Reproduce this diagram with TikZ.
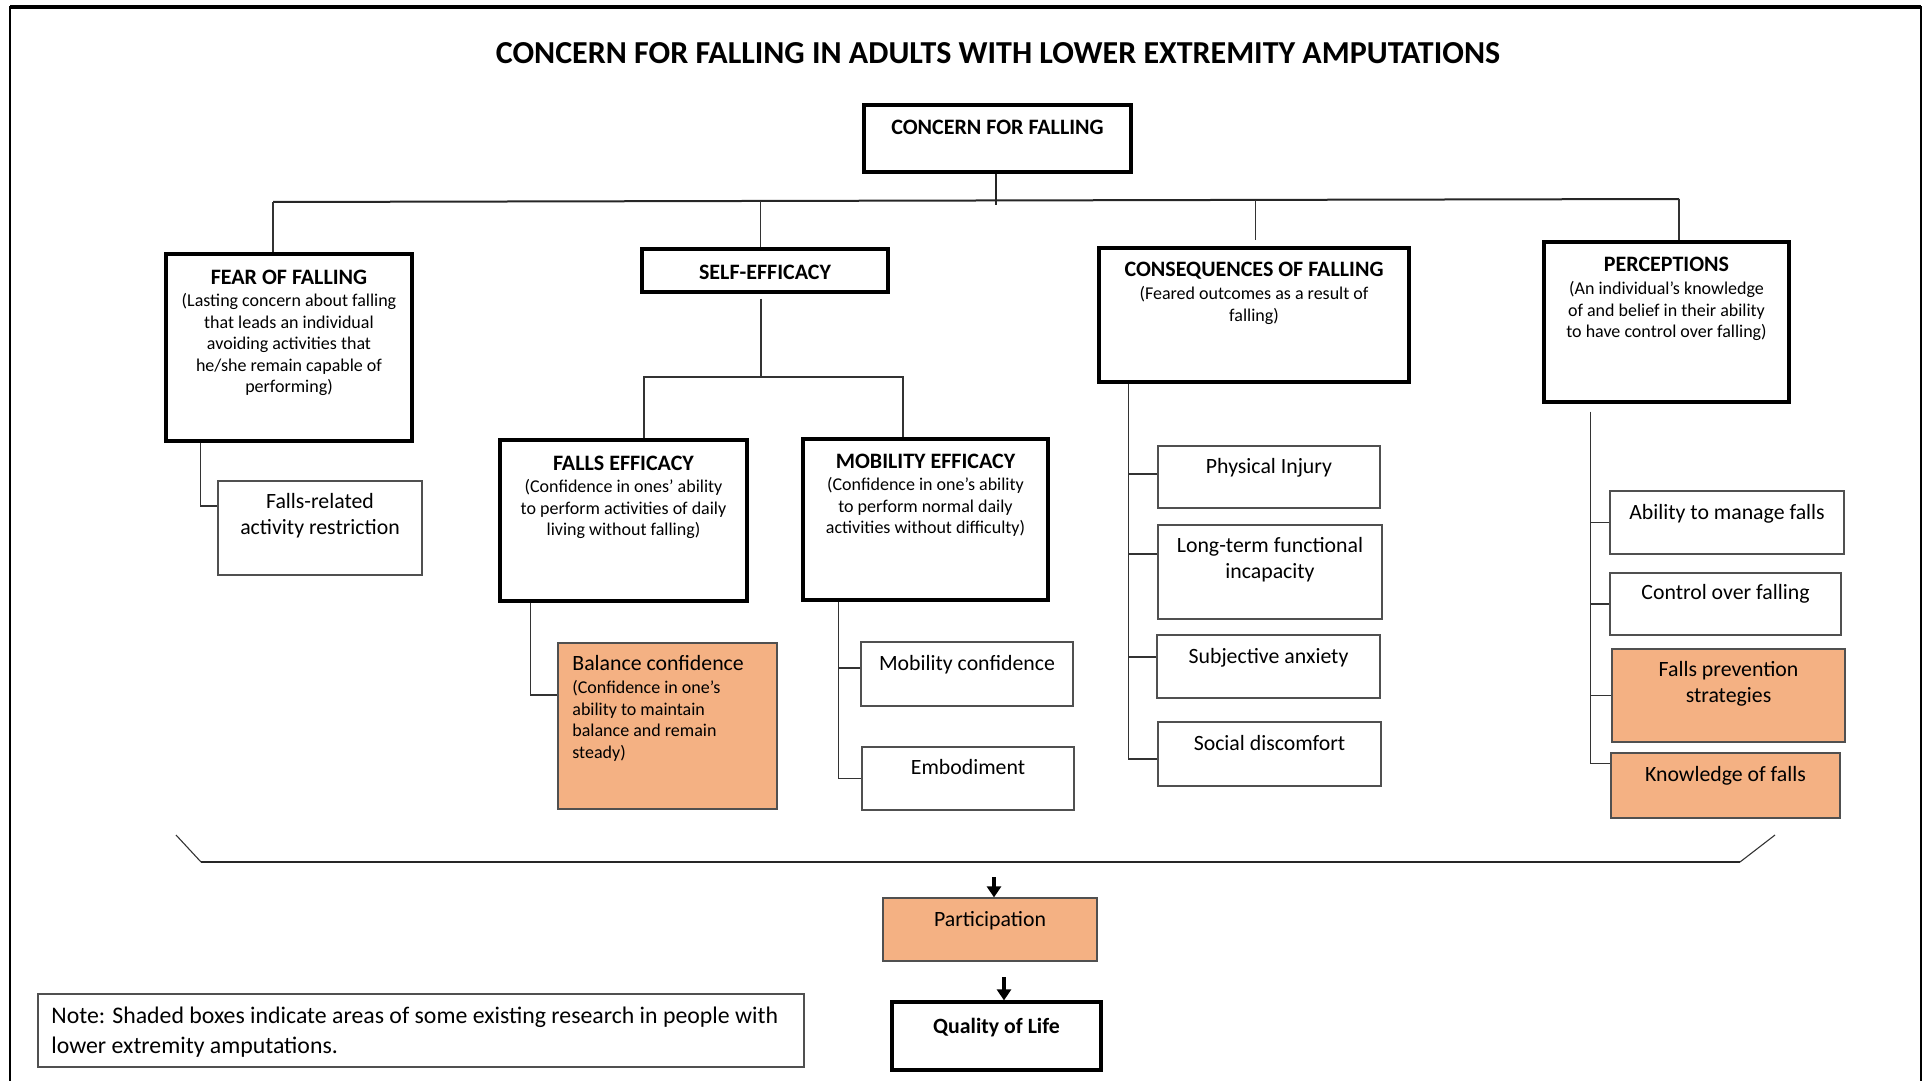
\documentclass[tikz,border=0pt]{standalone}
\usepackage{fontspec}
\setmainfont{Carlito}
\usetikzlibrary{fit,calc,arrows.meta}
\definecolor{shade}{HTML}{F4B183}
\definecolor{lgray}{HTML}{505050}
\newcommand\fMain{\fontsize{16}{19}\selectfont\bfseries}
\newcommand\fHead{\fontsize{11}{13}\selectfont\bfseries}
\newcommand\fDesc{\fontsize{9}{10.75}\selectfont}
\newcommand\fLeaf{\fontsize{10.9}{13.2}\selectfont}
\begin{document}
\begin{tikzpicture}[x=0.5pt,y=-0.5pt,
  thickbox/.style={draw=black, line width=1.6pt, inner sep=0pt},
  thinbox/.style={draw=lgray, line width=0.6pt, inner sep=0pt},
  shadebox/.style={thinbox, fill=shade},
  conn/.style={draw=black!80, line width=0.55pt},
  bus/.style={draw=black!85, line width=1pt},
  arr/.style={draw=black, line width=1.6pt, -{Triangle[length=5.5pt,width=7pt]}},
  hd/.style={font=\fHead, inner sep=0pt, text height=0.75em, text depth=0.25em, anchor=center, yshift=-1.5pt},
  desc/.style={font=\fDesc, align=center, inner sep=0pt, anchor=north},
  leaf/.style={font=\fLeaf, inner sep=0pt, text height=0.75em, text depth=0.25em, anchor=center, yshift=-0.75pt},
  leafm/.style={font=\fLeaf, align=center, inner sep=0pt, anchor=north}
]
\useasboundingbox (0,0) rectangle (1929,1081);
% frame
\draw[line width=1.1pt] (10,1081) -- (10,7) -- (1921,7) -- (1921,1081);
\draw[line width=1.6pt] (10,7) -- (1921,7);

% title
\node[font=\fMain, inner sep=0pt, text height=0.75em, text depth=0.25em, yshift=-2.5pt] (title) at (998,54) {CONCERN FOR FALLING IN ADULTS WITH LOWER EXTREMITY AMPUTATIONS};

% top box
\node[thickbox, fit={(864,105)(1131,172)}] (concern) {};
\node[hd] (concern-t) at (997.5,127) {CONCERN FOR FALLING};

% level 1 boxes
\node[thickbox, fit={(166,254)(412,441)}] (fof) {};
\node[hd] (fof-t) at (289,276) {FEAR OF FALLING};
\node[desc] (fof-d) at (289,293) {(Lasting concern about falling\\that leads an individual\\avoiding activities that\\he/she remain capable of\\performing)};

\node[thickbox, fit={(642,249)(888,292)}] (se) {};
\node[hd] (se-t) at (765,271) {SELF-EFFICACY};

\node[thickbox, fit={(1099,248)(1409,382)}] (cons) {};
\node[hd] (cons-t) at (1254,269) {CONSEQUENCES OF FALLING};
\node[desc] (cons-d) at (1254,286) {(Feared outcomes as a result of\\falling)};

\node[thickbox, fit={(1544,242)(1789,402)}] (perc) {};
\node[hd] (perc-t) at (1666.5,263) {PERCEPTIONS};
\node[desc] (perc-d) at (1666.5,281) {(An individual's knowledge\\of and belief in their ability\\to have control over falling)};

% level 2 boxes
\node[thickbox, fit={(500,440)(747,601)}] (fe) {};
\node[hd] (fe-t) at (623.5,462) {FALLS EFFICACY};
\node[desc] (fe-d) at (623.5,479) {(Confidence in ones' ability\\to perform activities of daily\\living without falling)};

\node[thickbox, fit={(803,439)(1048,600)}] (me) {};
\node[hd] (me-t) at (925.5,460) {MOBILITY EFFICACY};
\node[desc] (me-d) at (925.5,477) {(Confidence in one's ability\\to perform normal daily\\activities without difficulty)};

% leaves
\node[thinbox, fit={(218,481)(422,575)}] (far) {};
\node[leafm] (far-t) at (320,493) {Falls-related\\activity restriction};

\node[shadebox, fit={(558,643)(777,809)}] (bal) {};
\node[font=\fLeaf, inner sep=0pt, text height=0.75em, text depth=0.25em, anchor=west] (bal-t) at (572,665.5) {Balance confidence};
\node[font=\fDesc, align=left, inner sep=0pt, anchor=north west] (bal-d) at (572,680) {(Confidence in one's\\ability to maintain\\balance and remain\\steady)};

\node[thinbox, fit={(861,642)(1073,706)}] (mob) {};
\node[leaf] (mob-t) at (967,664) {Mobility confidence};
\node[thinbox, fit={(862,747)(1074,810)}] (emb) {};
\node[leaf] (emb-t) at (968,768) {Embodiment};

\node[thinbox, fit={(1158,446)(1380,508)}] (phys) {};
\node[leaf] (phys-t) at (1269,467) {Physical Injury};
\node[thinbox, fit={(1158,525)(1382,619)}] (long) {};
\node[leafm] (long-t) at (1270,537) {Long-term functional\\incapacity};
\node[thinbox, fit={(1157,635)(1380,698)}] (subj) {};
\node[leaf] (subj-t) at (1268.5,657) {Subjective anxiety};
\node[thinbox, fit={(1158,722)(1381,786)}] (soc) {};
\node[leaf] (soc-t) at (1269.5,744) {Social discomfort};

\node[thinbox, fit={(1610,491)(1844,554)}] (abil) {};
\node[leaf] (abil-t) at (1727,513) {Ability to manage falls};
\node[thinbox, fit={(1610,573)(1841,635)}] (ctrl) {};
\node[leaf] (ctrl-t) at (1725.5,593) {Control over falling};
\node[shadebox, fit={(1612,649)(1845,742)}] (prev) {};
\node[leafm] (prev-t) at (1728.5,661) {Falls prevention\\strategies};
\node[shadebox, fit={(1611,753)(1840,818)}] (know) {};
\node[leaf] (know-t) at (1725.5,775) {Knowledge of falls};

% bottom
\node[shadebox, fit={(883,898)(1097,961)}] (part) {};
\node[leaf] (part-t) at (990,920) {Participation};
\node[thickbox, fit={(892,1002)(1101,1070)}] (qol) {};
\node[font=\fLeaf\bfseries, inner sep=0pt, text height=0.75em, text depth=0.25em, yshift=-0.75pt] (qol-t) at (996.5,1027) {Quality of Life};

\node[thinbox, fit={(38,994)(804,1067)}] (note) {};
\node[font=\fontsize{11.9}{15}\selectfont, align=left, inner sep=0pt, anchor=north west] (note-t) at (51,1007) {Note: Shaded boxes indicate areas of some existing research in people with\\lower extremity amputations.};

% connectors: top bus
\coordinate (busL) at (273,202);
\coordinate (busR) at (1679,199);
\coordinate (busC) at (996,205);
\coordinate (tapSE) at ($(busL)!0.347!(busR)$);
\coordinate (tapC) at ($(busL)!0.699!(busR)$);
\draw[bus] (busL) -- (busR);
\draw[bus] (concern.south -| busC) -- (busC);
\draw[conn] (busL) -- (busL |- fof.north);
\draw[conn] (tapSE) -- (tapSE |- se.north);
\draw[conn] (tapC) -- ([yshift=3pt]tapC |- cons.north);
\draw[conn] (busR) -- (busR |- perc.north);

% self-efficacy split
\coordinate (seHub) at (761,377);
\coordinate (feTap) at (644,377);
\coordinate (meTap) at (903,377);
\draw[conn] ([yshift=-2.5pt]se.south -| seHub) -- (seHub);
\draw[conn] (feTap |- fe.north) -- (feTap) -- (meTap) -- (meTap |- me.north);

% fear of falling -> leaf
\draw[conn] ([xshift=18pt]fof.south west) |- ([yshift=11pt]far.west);
% falls efficacy -> balance
\draw[conn] ([xshift=16pt]fe.south west) |- ([yshift=15.5pt]bal.west);
% mobility efficacy -> leaves
\coordinate (meX) at ([xshift=18.5pt]me.south west);
\draw[conn] (meX) |- (emb.west);
\draw[conn] ([yshift=3pt]mob.west) -- ([yshift=3pt]mob.west -| meX);
% consequences -> leaves
\coordinate (consX) at ([xshift=15.5pt]cons.south west);
\draw[conn] (consX) |- ([yshift=-2.5pt]soc.west);
\draw[conn] ([yshift=1.5pt]phys.west) -- ([yshift=1.5pt]phys.west -| consX);
\draw[conn] ([yshift=9pt]long.west) -- ([yshift=9pt]long.west -| consX);
\draw[conn] ([yshift=4.75pt]subj.west) -- ([yshift=4.75pt]subj.west -| consX);
% perceptions -> leaves
\coordinate (percX) at ([xshift=24pt,yshift=-4pt]perc.south west);
\draw[conn] (percX) |- ([yshift=11pt]know.west);
\draw[conn] (abil.west) -- (abil.west -| percX);
\draw[conn] (ctrl.west) -- (ctrl.west -| percX);
\draw[conn] (prev.west) -- (prev.west -| percX);

% bracket
\coordinate (brL1) at (176,835);
\coordinate (brL2) at (201,862);
\coordinate (brR2) at (1740,862);
\coordinate (brR1) at (1775,835);
\draw[conn] (brL1) -- (brL2);
\draw[conn] (brR2) -- (brR1);
\draw[draw=black!85, line width=1.2pt] (brL2) -- (brR2);

% arrows
\coordinate (a1) at (994,877);
\coordinate (a2) at (1004,977);
\draw[arr] (a1) -- (a1 |- part.north);
\draw[arr] (a2) -- (a2 |- qol.north);
\end{tikzpicture}
\end{document}
